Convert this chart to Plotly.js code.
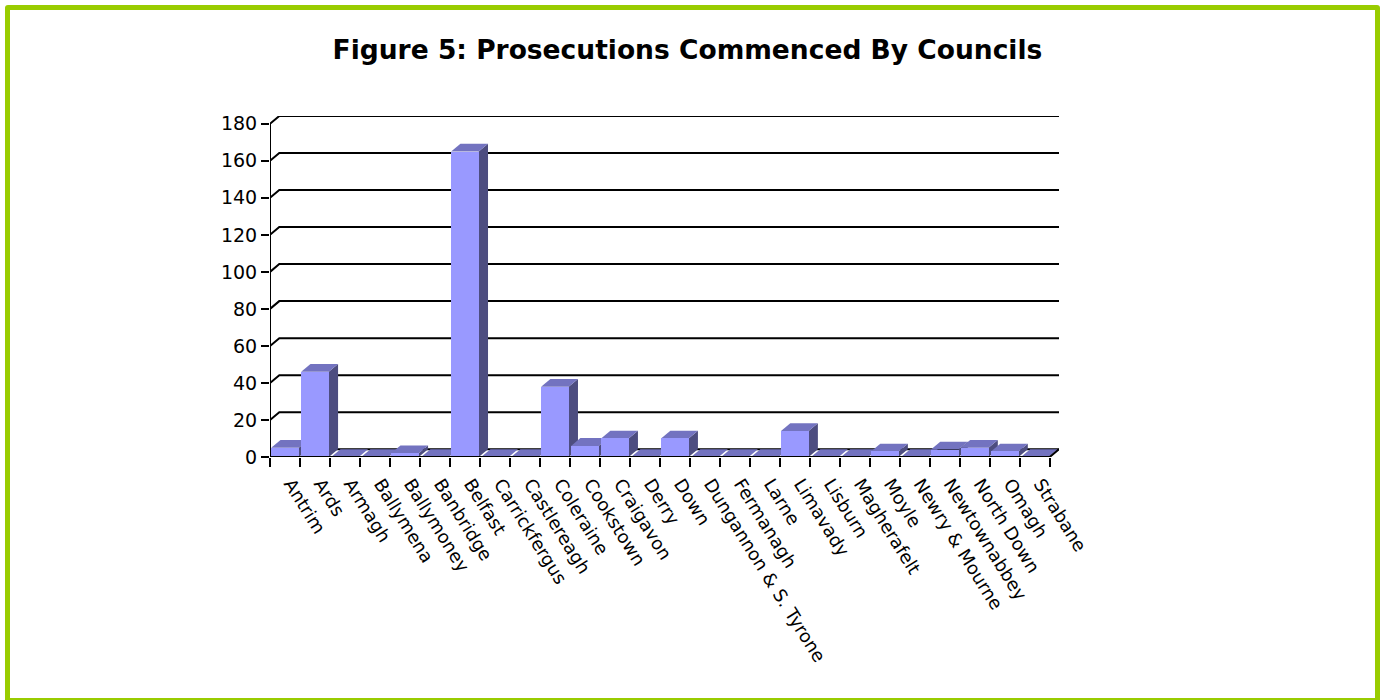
<!DOCTYPE html>
<html><head><meta charset="utf-8">
<script src="https://cdn.plot.ly/plotly-3.0.1.min.js"></script>
<style>
body{margin:0;background:#fff}
#wrap{position:relative;width:1386px;height:700px;overflow:hidden}
#chart{position:absolute;left:0;top:0;width:1386px;height:700px}
#border{position:absolute;left:5px;top:5px;width:1375px;height:698px;box-sizing:border-box;border:5px solid #99CC00;border-radius:3px;pointer-events:none}
</style></head>
<body>
<div id="wrap"><div id="chart"></div><div id="border"></div></div>
<script>
const councils = ["Antrim","Ards","Armagh","Ballymena","Ballymoney","Banbridge","Belfast","Carrickfergus","Castlereagh","Coleraine","Cookstown","Craigavon","Derry","Down","Dungannon & S. Tyrone","Fermanagh","Larne","Limavady","Lisburn","Magherafelt","Moyle","Newry & Mourne","Newtownabbey","North Down","Omagh","Strabane"];
const prosecutions = [5,46,0,0,2,0,165,0,0,38,6,10,0,10,0,0,0,14,0,0,3,0,4,5,3,0];
const yTickValues = [0,20,40,60,80,100,120,140,160,180];

const n = councils.length;
const idx = councils.map((_, i) => i);
const boundaries = [];
for (let i = 0; i <= n; i++) boundaries.push(i - 0.5);

const DX = 0.31, DY = 4.2, W = 0.92;
const yMax = yTickValues[yTickValues.length - 1];
const left = -0.5, right = n - 0.5;

const shapes = [];
yTickValues.forEach(v => {
  shapes.push({type:'path', xref:'x', yref:'y', layer:'below',
    path:`M ${left},${v} L ${left+DX},${v+DY} L ${right+DX},${v+DY}`,
    line:{color:'#000', width:2}});
});
prosecutions.forEach((v, i) => {
  const x0 = i - W/2, x1 = i + W/2;
  if (v > 0) {
    shapes.push({type:'path', xref:'x', yref:'y', layer:'below',
      path:`M ${x1},0 L ${x1+DX},${DY} L ${x1+DX},${v+DY} L ${x1},${v} Z`,
      fillcolor:'#4D4D80', line:{width:0}});
  }
  shapes.push({type:'path', xref:'x', yref:'y', layer:'below',
    path:`M ${x0},${v} L ${x0+DX},${v+DY} L ${x1+DX},${v+DY} L ${x1},${v} Z`,
    fillcolor:'#7373C0', line:{width:0}});
});
shapes.push({type:'path', xref:'x', yref:'y', layer:'above',
  path:`M ${left},0 L ${right},0 L ${right+DX},${DY}`, line:{color:'#000', width:2}});
shapes.push({type:'path', xref:'x', yref:'y', layer:'above',
  path:`M ${left},0 L ${left},${yMax}`, line:{color:'#000', width:2}});

const pxPerCat = 30;
const plotW = (n + DX) * pxPerCat;
const yPx = 1.8556;
const plotH = (yMax + DY) * yPx;
const ml = 270, mb = 700 - 457.5;

const trace = {
  type:'bar', x: idx, y: prosecutions, width: W,
  marker:{color:'#9999FF', line:{width:0}},
  hoverinfo:'skip'
};
const ghost = {type:'scatter', x:[left], y:[0], xaxis:'x2', mode:'none', hoverinfo:'skip', showlegend:false};

const layout = {
  width:1386, height:700,
  margin:{l:ml, r:1386 - ml - plotW, t:700 - mb - plotH, b:mb, pad:0},
  paper_bgcolor:'rgba(0,0,0,0)', plot_bgcolor:'rgba(0,0,0,0)',
  showlegend:false,
  title:{text:'<b>Figure 5: Prosecutions Commenced By Councils</b>',
    font:{family:'DejaVu Sans', size:26.5, color:'#000'},
    xref:'container', x:0.496, xanchor:'center', yref:'container', y:1-50/700, yanchor:'middle'},
  font:{family:'DejaVu Sans', color:'#000'},
  xaxis:{type:'linear', range:[left, right + DX], tickvals: idx, ticktext: councils,
    tickangle:58, ticks:'', showgrid:false, zeroline:false, showline:false,
    ticklabelstandoff:12, ticklabelshift:6,
    tickfont:{family:'DejaVu Sans', size:18, color:'#000'}, fixedrange:true},
  xaxis2:{type:'linear', overlaying:'x', anchor:'y', side:'bottom', range:[left, right + DX],
    tickvals: boundaries, ticks:'outside', ticklen:9, tickwidth:2, tickcolor:'#000',
    showticklabels:false, showgrid:false, zeroline:false, showline:false},
  yaxis:{range:[0, yMax + DY], tickvals: yTickValues, ticks:'outside', ticklen:8, tickwidth:2,
    tickcolor:'#000', showgrid:false, zeroline:false, showline:false,
    tickfont:{family:'DejaVu Sans', size:19, color:'#000'}, fixedrange:true},
  shapes: shapes,
  bargap:0
};
Plotly.newPlot('chart', [trace, ghost], layout, {displayModeBar:false, staticPlot:true});
</script>
</body></html>
